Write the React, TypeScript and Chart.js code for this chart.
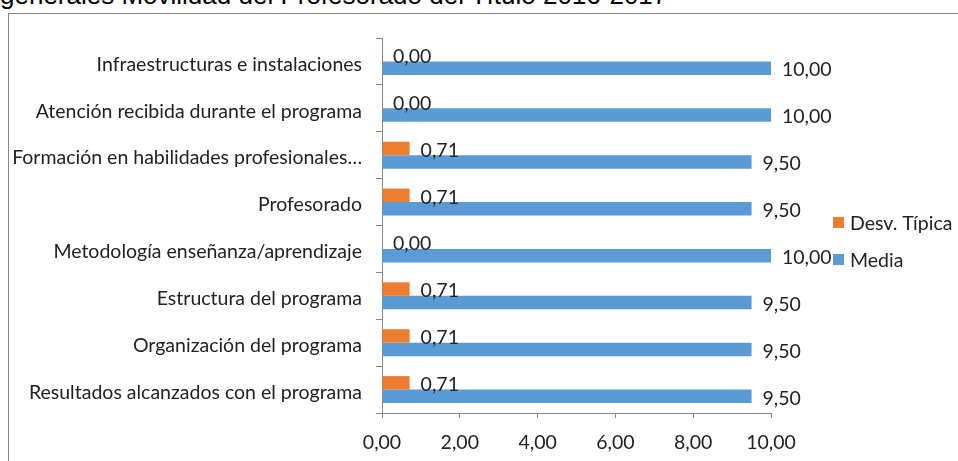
import React, { useEffect, useRef } from "react";
import { Chart, registerables } from "chart.js";

Chart.register(...registerables);

const categories = [
  "Infraestructuras e instalaciones",
  "Atención recibida durante el programa",
  "Formación en habilidades profesionales…",
  "Profesorado",
  "Metodología enseñanza/aprendizaje",
  "Estructura del programa",
  "Organización del programa",
  "Resultados alcanzados con el programa",
];
const desvTipica = [0, 0, 0.71, 0.71, 0, 0.71, 0.71, 0.71];
const media = [10, 10, 9.5, 9.5, 10, 9.5, 9.5, 9.5];
const seriesNames = ["Desv. Típica", "Media"];
const seriesColors = ["#ED7D31", "#5B9BD5"];
const xTicks = [0, 2, 4, 6, 8, 10];
const titleText = "generales Movilidad del Profesorado del Título 2016-2017";

const FONT = "Lato, 'Open Sans', sans-serif";
const FS = 19.5;
const fmt = (v: number) => v.toFixed(2).replace(".", ",");

const labelPlugin = {
  id: "valueLabels",
  afterDatasetsDraw(chart: any) {
    const ctx = chart.ctx;
    ctx.save();
    ctx.font = `${FS}px ${FONT}`;
    ctx.fillStyle = "#222222";
    ctx.textAlign = "left";
    ctx.textBaseline = "middle";
    chart.data.datasets.forEach((ds: any, di: number) => {
      const meta = chart.getDatasetMeta(di);
      meta.data.forEach((el: any, i: number) => {
        ctx.fillText(fmt(ds.data[i]), el.x + 11, el.y + 2);
      });
    });
    ctx.restore();
  },
};

const legendPlugin = {
  id: "customLegend",
  afterDraw(chart: any) {
    const ctx = chart.ctx;
    ctx.save();
    ctx.font = `${FS}px ${FONT}`;
    ctx.textAlign = "left";
    ctx.textBaseline = "middle";
    const x0 = 833;
    const ys = [217, 254];
    chart.data.datasets.forEach((ds: any, i: number) => {
      ctx.fillStyle = ds.backgroundColor;
      ctx.fillRect(x0, ys[i], 11, 11);
      ctx.fillStyle = "#222222";
      ctx.fillText(ds.label, x0 + 17, ys[i] + 7);
    });
    ctx.restore();
  },
};

export default function App() {
  const ref = useRef<HTMLCanvasElement>(null);
  useEffect(() => {
    document.body.style.margin = "0";
    const chart = new Chart(ref.current!, {
      type: "bar",
      data: {
        labels: categories,
        datasets: [
          { label: seriesNames[0], data: desvTipica, backgroundColor: seriesColors[0] },
          { label: seriesNames[1], data: media, backgroundColor: seriesColors[1] },
        ],
      },
      options: {
        indexAxis: "y",
        responsive: false,
        animation: false,
        devicePixelRatio: 1,
        datasets: { bar: { categoryPercentage: 0.575, barPercentage: 1 } },
        layout: { padding: { left: 0, top: 38, right: 187, bottom: 0 } },
        plugins: { legend: { display: false }, tooltip: { enabled: false }, title: { display: false } },
        scales: {
          x: {
            min: 0,
            max: 10,
            afterFit: (s: any) => { s.height = 48; },
            afterBuildTicks: (s: any) => { s.ticks = xTicks.map((v) => ({ value: v })); },
            border: { display: true, color: "#868686", width: 1 },
            grid: { drawOnChartArea: false, drawTicks: true, tickLength: 5, color: "#868686" },
            ticks: {
              padding: 13,
              color: "#222222",
              font: { family: FONT, size: FS },
              callback: (v: any) => fmt(Number(v)),
            },
          },
          y: {
            afterFit: (s: any) => { s.width = 382; },
            border: { display: true, color: "#868686", width: 1 },
            grid: { drawOnChartArea: false, drawTicks: true, tickLength: 6, color: "#868686", offset: true },
            ticks: {
              padding: 14,
              labelOffset: 3,
              color: "#222222",
              font: { family: FONT, size: FS },
              autoSkip: false,
            },
          },
        },
      },
      plugins: [labelPlugin, legendPlugin],
    });
    return () => chart.destroy();
  }, []);

  return (
    <div style={{ position: "fixed", left: 0, top: 0, width: 958, height: 461, overflow: "hidden", background: "#fff" }}>
      <div
        style={{
          position: "absolute",
          left: 0,
          top: -18,
          width: 667,
          textAlign: "right",
          whiteSpace: "nowrap",
          fontFamily: "'Liberation Sans', Arial, sans-serif",
          fontSize: 26,
          lineHeight: "26px",
          color: "#000",
        }}
      >
        {titleText}
      </div>
      <div
        style={{
          position: "absolute",
          left: 8,
          top: 13,
          width: 1000,
          height: 500,
          border: "1px solid #868686",
          boxSizing: "border-box",
        }}
      />
      <canvas ref={ref} width={958} height={461} style={{ position: "absolute", left: 0, top: 0 }} />
    </div>
  );
}
